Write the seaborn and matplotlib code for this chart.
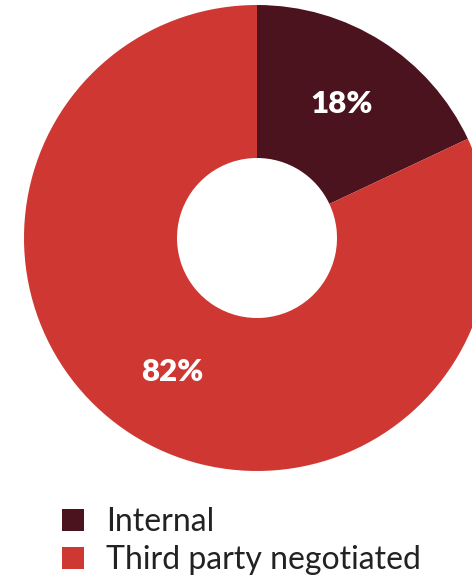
import matplotlib
matplotlib.use("Agg")
import matplotlib.pyplot as plt
from matplotlib.patches import Patch
import seaborn as sns

categories = ["Internal", "Third party negotiated"]
shares = [18, 82]
colors = ["#4a131e", "#cf3832"]

sns.set_theme(style="white")
plt.rcParams["font.family"] = ["Lato", "DejaVu Sans"]

fig = plt.figure(figsize=(4.72, 5.77), dpi=100)
fig.patch.set_facecolor("white")

# Donut axes: square in pixels, partly running off the right edge
W, H = 472, 577
left, top, size = 24, 5, 466
ax = fig.add_axes([left / W, (H - top - size) / H, size / W, size / H])

wedges, texts, autotexts = ax.pie(
    shares,
    colors=colors,
    startangle=90,
    counterclock=False,
    radius=1.0,
    wedgeprops=dict(width=1 - 80 / 233, edgecolor="none", linewidth=0),
    autopct=lambda p: f"{p:.0f}%",
    pctdistance=0.68,
    textprops=dict(color="white", fontsize=22.5, fontweight="heavy"),
)
ax.set_xlim(-1, 1)
ax.set_ylim(-1, 1)
ax.set_aspect("equal")
ax.axis("off")

handles = [Patch(facecolor=c, edgecolor="none") for c in colors]
fig.legend(
    handles,
    categories,
    loc="upper left",
    bbox_to_anchor=(46 / W, 1 - 491 / H),
    frameon=False,
    fontsize=23,
    handlelength=0.68,
    handleheight=0.7,
    handletextpad=0.7,
    labelspacing=0.26,
    borderpad=0,
    labelcolor="#222222",
)

fig.savefig("out.png", dpi=100, facecolor="white")
